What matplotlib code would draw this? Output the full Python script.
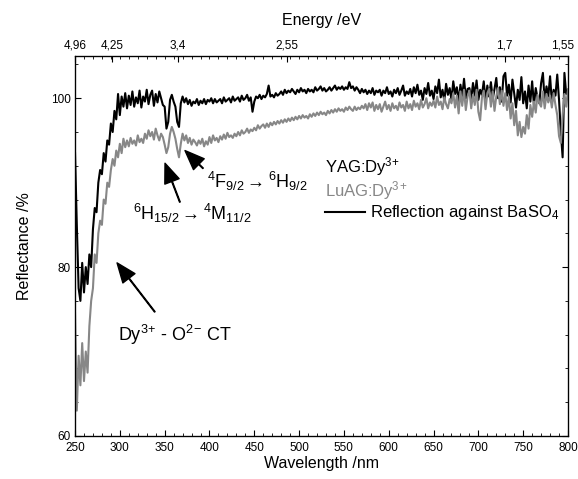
import matplotlib.pyplot as plt
import numpy as np
from matplotlib.ticker import MultipleLocator
from matplotlib.lines import Line2D
from matplotlib.transforms import ScaledTranslation

plt.rcParams['font.family'] = ['Liberation Sans', 'DejaVu Sans']
plt.rcParams['mathtext.fontset'] = 'custom'
plt.rcParams['mathtext.rm'] = 'Liberation Sans'
plt.rcParams['mathtext.it'] = 'Liberation Sans:italic'
plt.rcParams['mathtext.bf'] = 'Liberation Sans:bold'

# длины волн, шаг 2 нм
wl = np.arange(250, 801, 2)

# YAG:Dy3+ (черная кривая)
yag = [93.5, 85.0, 77.5, 76.0, 80.5, 77.0, 80.0, 78.0, 81.5, 80.0,
       84.5, 87.0, 86.5, 90.0, 91.5, 91.0, 93.5, 92.5, 95.0, 94.5,
       97.0, 96.0, 98.5, 97.5, 100.5, 98.0, 100.2, 99.0, 100.6, 98.8,
       100.3, 99.2, 100.8, 99.0, 100.1, 99.4, 100.9, 98.9, 100.2, 99.6,
       101.0, 99.3, 100.4, 100.9, 99.1, 100.5, 99.5, 100.8, 100.0, 99.2,
       99.0, 96.4, 97.2, 99.8, 100.4, 99.6, 99.0, 97.2, 96.6, 99.4,
       100.2, 99.5, 100.0, 99.3, 99.8, 99.1, 99.6, 99.4, 99.9, 99.2,
       99.7, 99.4, 99.9, 99.3, 99.8, 99.6, 100.0, 99.4, 99.9, 99.5,
       99.7, 99.9, 99.4, 100.1, 99.6, 99.8, 100.0, 99.5, 100.2, 99.7,
       99.9, 100.1, 99.6, 100.3, 99.8, 100.0, 100.4, 99.7, 100.1, 98.4,
       99.6, 100.2, 100.0, 100.4, 99.9, 100.3, 100.1, 100.5, 101.5, 100.2,
       100.4, 100.1, 100.6, 100.3, 100.5, 100.8, 100.4, 101.0, 100.6, 100.9,
       100.7, 101.1, 100.8, 100.5, 101.0, 100.7, 101.2, 100.8, 101.0, 100.6,
       101.1, 100.8, 101.0, 100.7, 101.3, 100.9, 101.1, 101.4, 100.9, 101.2,
       100.8, 101.0, 101.3, 100.9, 101.2, 101.5, 101.0, 101.3, 101.1, 101.4,
       101.0, 101.3, 101.1, 101.9, 101.2, 101.4, 100.9, 101.3, 101.0, 100.6,
       101.1, 100.7, 101.0, 100.5, 100.9, 100.6, 101.2, 100.4, 100.9, 100.7,
       101.0, 100.3, 100.9, 100.6, 101.3, 100.5, 100.8, 100.2, 101.0, 100.6,
       101.2, 100.4, 100.9, 101.5, 100.3, 100.8, 100.5, 101.1, 100.2, 101.3,
       100.6, 101.6, 100.4, 100.9, 99.8, 101.2, 100.5, 101.8, 100.3, 100.9,
       99.9, 101.4, 100.6, 102.2, 100.1, 101.0, 99.7, 101.7, 100.4, 101.2,
       99.8, 102.0, 100.5, 101.3, 99.6, 101.6, 100.2, 102.3, 100.0, 101.1,
       101.2, 99.9, 101.8, 100.3, 102.1, 99.8, 101.0, 100.4, 102.0, 99.7,
       101.5, 100.2, 101.9, 99.9, 101.1, 102.4, 100.0, 101.3, 99.6, 102.6,
       103.0, 100.3, 101.6, 99.5, 102.2, 100.6, 98.9, 101.0, 99.8, 102.5,
       99.4, 100.8, 98.8, 101.5, 99.6, 102.0, 99.2, 101.2, 100.0, 99.4,
       101.8, 103.0, 99.6, 101.4, 100.2, 102.6, 99.5, 101.0, 100.3, 102.8,
       99.8, 96.0, 93.0, 103.0, 100.5, 101.0]

# LuAG:Dy3+ (серая кривая)
luag = [74.5, 63.0, 69.5, 66.0, 71.0, 66.5, 70.0, 67.5, 73.0, 76.0,
        77.5, 81.5, 80.5, 84.0, 85.5, 85.0, 88.0, 87.5, 90.0, 89.5,
        91.5, 92.8, 92.0, 93.8, 93.0, 94.6, 93.5, 95.2, 94.2, 95.0,
        94.3, 95.3, 94.6, 95.0, 94.4, 95.6, 94.8, 95.2, 94.7, 95.8,
        95.2, 96.2, 95.5, 96.0, 95.1, 96.4, 95.6, 95.0, 95.8, 95.4,
        94.5, 93.5, 94.2, 95.8, 96.6, 96.0, 95.2, 94.0, 93.0, 94.6,
        95.8, 95.0, 95.6, 94.7, 95.3, 94.5, 95.1, 94.8, 94.4, 95.0,
        94.6, 95.2, 94.3, 94.9, 94.5, 95.4, 94.7, 95.6, 95.0, 95.3,
        94.8, 95.5, 95.1, 95.7, 95.2, 95.9, 95.4, 95.6, 95.3, 95.8,
        95.5, 96.0, 95.6, 96.2, 95.8, 96.0, 96.4, 95.9, 96.3, 96.1,
        96.5, 96.2, 96.8, 96.4, 96.7, 96.9, 96.5, 97.0, 96.6, 97.1,
        96.8, 97.2, 96.9, 97.3, 97.0, 97.4, 97.1, 97.5, 97.2, 97.6,
        97.3, 97.7, 97.4, 97.8, 97.5, 97.9, 97.6, 98.0, 97.7, 97.9,
        97.6, 98.1, 97.8, 98.2, 97.9, 98.3, 98.0, 98.4, 98.1, 98.3,
        98.0, 98.5, 98.2, 98.6, 98.3, 98.7, 98.4, 98.8, 98.5, 98.7,
        98.4, 98.9, 98.6, 99.0, 98.7, 98.5, 99.0, 98.6, 98.9, 98.7,
        99.1, 98.8, 99.3, 98.6, 99.4, 98.9, 99.5, 98.5, 99.2, 98.7,
        99.3, 98.4, 99.0, 99.6, 98.7, 99.2, 98.5, 99.4, 98.8, 99.1,
        98.6, 99.5, 98.9, 99.2, 98.5, 99.6, 98.8, 99.3, 98.6, 99.7,
        99.0, 99.4, 98.7, 99.8, 98.9, 99.3, 100.0, 98.8, 99.5, 99.1,
        99.7, 98.9, 100.2, 99.2, 99.6, 98.7, 100.1, 99.3, 98.8, 99.9,
        99.4, 100.6, 98.9, 100.3, 98.2, 100.8, 99.1, 101.0, 98.6, 100.2,
        100.9, 98.8, 100.4, 99.2, 101.0, 98.4, 97.4, 100.1, 100.9, 98.7,
        100.6, 101.1, 99.0, 100.8, 98.5, 100.2, 101.2, 99.3, 100.9, 99.1,
        100.6, 98.6, 100.2, 97.6, 99.4, 96.8, 98.5, 95.6, 97.2, 95.4,
        96.6, 95.8, 98.0, 96.4, 99.2, 97.8, 99.6, 98.3, 100.4, 99.4,
        99.0, 100.8, 98.8, 100.5, 99.5, 100.3, 98.9, 100.6, 99.2, 98.0,
        95.5, 94.7, 98.0, 100.5, 99.0, 101.0]

# верхняя шкала - энергия в эВ
energy = [4.96, 4.25, 3.4, 2.55, 1.7, 1.55]
energy_labels = ['4,96', '4,25', '3,4', '2,55', '1,7', '1,55']

gray = '#878787'

fig = plt.figure(figsize=(5.78, 4.79), dpi=100)
ax = fig.add_axes([0.1298, 0.0898, 0.8529, 0.7933])

ax.plot(wl, yag, color='black', lw=1.5)
ax.plot(wl, luag, color=gray, lw=1.5)

ax.set_xlim(250, 800)
ax.set_ylim(60, 105)
ax.set_xticks(np.arange(250, 801, 50))
ax.set_yticks([60, 80, 100])
ax.xaxis.set_minor_locator(MultipleLocator(10))
ax.yaxis.set_minor_locator(MultipleLocator(4))
ax.tick_params(which='both', direction='in', right=True, labelsize=8.5)
ax.tick_params(axis='x', pad=4)
ax.tick_params(axis='y', pad=3)
ax.tick_params(which='major', length=4, width=0.8)
ax.tick_params(which='minor', length=2, width=0.6)
for s in ax.spines.values():
    s.set_linewidth(0.9)

ax.set_xlabel('Wavelength /nm', fontsize=11.5, labelpad=2)
ax.set_ylabel('Reflectance /%', fontsize=11.5, labelpad=14)

# верхняя ось
ax2 = ax.twiny()
ax2.set_xlim(ax.get_xlim())
ax2.set_xticks([1240 / e for e in energy])
ax2.set_xticklabels(energy_labels)
ax2.xaxis.set_minor_locator(MultipleLocator(10))
ax2.tick_params(which='both', direction='in', labelsize=8.5, pad=3)
ax2.tick_params(which='major', length=4, width=0.8)
ax2.tick_params(which='minor', length=2, width=0.6)
ax2.set_xlabel('Energy /eV', fontsize=11.5, labelpad=11)
# последнюю подпись чуть сдвинем влево, чтобы не обрезалась
last = ax2.get_xticklabels()[-1]
last.set_transform(last.get_transform() + ScaledTranslation(-4 / 72, 0, fig.dpi_scale_trans))

# подписи переходов со стрелками
arr = dict(facecolor='black', edgecolor='black', width=0.5, headwidth=11, headlength=14, shrink=0)
ax.annotate('', xy=(296.9, 80.5), xytext=(339, 74.7), arrowprops=arr)
ax.text(362, 72, 'Dy$^{3}$$^{+}$ - O$^{2}$$^{-}$ CT', fontsize=13, ha='center', va='center')

ax.annotate('', xy=(350.4, 92.3), xytext=(367, 87.7), arrowprops=arr)
ax.text(381, 86.4, r'$^6$H$_{15/2}$$\rightarrow$$^4$M$_{11/2}$', fontsize=13, ha='center', va='center')

ax.annotate('', xy=(372.7, 93.8), xytext=(392.8, 91.7), arrowprops=arr)
ax.text(453, 90.1, r'$^4$F$_{9/2}$$\rightarrow$$^6$H$_{9/2}$', fontsize=13, ha='center', va='center')

# легенда
ax.text(0.507, 0.708, 'YAG:Dy$^{3}$$^{+}$', transform=ax.transAxes, fontsize=12, va='center', color='black')
ax.text(0.507, 0.645, 'LuAG:Dy$^{3}$$^{+}$', transform=ax.transAxes, fontsize=12, va='center', color=gray)
ax.add_line(Line2D([0.507, 0.588], [0.589, 0.589], transform=ax.transAxes, color='black', lw=1.5))
ax.text(0.598, 0.589, 'Reflection against BaSO$_4$', transform=ax.transAxes, fontsize=12, va='center')

plt.savefig('out.png', dpi=100)
